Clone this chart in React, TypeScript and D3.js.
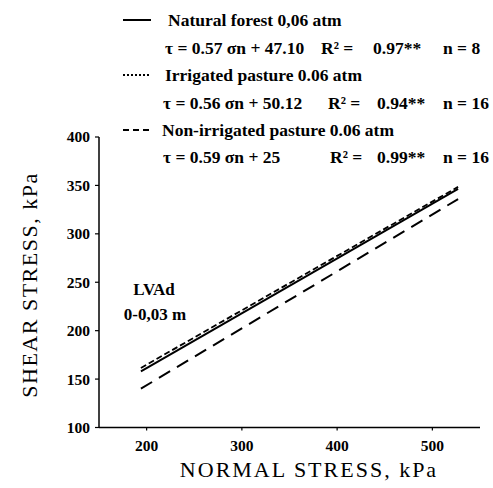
import React from "react";
import * as d3 from "d3";

const seriesNames = ["Natural forest 0,06 atm", "Irrigated pasture 0.06 atm", "Non-irrigated pasture 0.06 atm"];
const equations = ["τ = 0.57 σn + 47.10", "τ = 0.56 σn + 50.12", "τ = 0.59 σn + 25"];
const r2Values = ["0.97**", "0.94**", "0.99**"];
const nValues = ["n = 8", "n = 16", "n = 16"];
const lineX = [194, 527];
const naturalForestY = [158, 346.5];
const irrigatedY = [161.5, 348.5];
const nonIrrigatedY = [140.1, 335.9];
const xTicks = [200, 300, 400, 500];
const yTicks = [100, 150, 200, 250, 300, 350, 400];

const W = 493;
const H = 488;
const FONT = "Liberation Serif, Times New Roman, Times, serif";

export default function App() {
  const x = d3.scaleLinear().domain([150, 550]).range([99, 480]);
  const y = d3.scaleLinear().domain([100, 400]).range([427.5, 137]);
  const line = d3
    .line<[number, number]>()
    .x((d) => x(d[0]))
    .y((d) => y(d[1]));

  const seriesY = [naturalForestY, irrigatedY, nonIrrigatedY];
  const plotDash = ["none", "6,3", "13,8"];
  const plotWidth = [2, 1.8, 2];
  const legendDash = ["none", "2,2", "6,4"];

  const titleX = [168, 165, 162];
  const baseTitle = [26, 81, 136];
  const baseEq = [54, 109, 163];
  const eqX = [165, 163, 163];
  const r2X = [321, 328, 330];
  const r2ValX = [373, 377, 377];
  const nX = [443, 443, 443];

  const T = (props: any) => <text style={{ fontFamily: FONT }} {...props} />;

  return (
    <svg
      width={W}
      height={H}
      style={{ position: "absolute", left: 0, top: 0, background: "#fff", fontFamily: FONT }}
    >
      <rect x={0} y={0} width={W} height={H} fill="#fff" />
      <line x1={x(150)} x2={x(150)} y1={y(400)} y2={y(100)} stroke="#000" strokeWidth={1.5} />
      <line x1={x(150)} x2={x(550)} y1={y(100)} y2={y(100)} stroke="#000" strokeWidth={1.5} />
      {yTicks.map((t) => (
        <g key={"y" + t}>
          <line x1={x(150) - 4} x2={x(150)} y1={y(t)} y2={y(t)} stroke="#000" strokeWidth={1.2} />
          <T x={x(150) - 9} y={y(t)} dy="0.35em" textAnchor="end" fontWeight="bold" fontSize={15.5}>
            {t}
          </T>
        </g>
      ))}
      {xTicks.map((t) => (
        <g key={"x" + t}>
          <line x1={x(t)} x2={x(t)} y1={y(100)} y2={y(100) + 3} stroke="#000" strokeWidth={1.2} />
          <T x={x(t)} y={451} textAnchor="middle" fontWeight="bold" fontSize={15.5}>
            {t}
          </T>
        </g>
      ))}
      <T x={309} y={477} textAnchor="middle" fontSize={22} letterSpacing={2}>
        NORMAL STRESS, kPa
      </T>
      <T transform={`translate(37, 285) rotate(-90)`} textAnchor="middle" fontSize={22} letterSpacing={1.5}>
        SHEAR STRESS, kPa
      </T>

      {seriesY.map((ys, i) => (
        <path
          key={"l" + i}
          d={line(lineX.map((v, j) => [v, ys[j]] as [number, number])) || ""}
          fill="none"
          stroke="#000"
          strokeWidth={plotWidth[i]}
          strokeDasharray={plotDash[i]}
        />
      ))}

      <T x={154} y={295} textAnchor="middle" fontWeight="bold" fontSize={17}>
        LVAd
      </T>
      <T x={155} y={320} textAnchor="middle" fontWeight="bold" fontSize={17}>
        0-0,03 m
      </T>

      {seriesNames.map((name, i) => (
        <g key={"lg" + i}>
          <line
            x1={123}
            x2={151}
            y1={baseTitle[i] - 6}
            y2={baseTitle[i] - 6}
            stroke="#000"
            strokeWidth={2}
            strokeDasharray={legendDash[i]}
          />
          <T x={titleX[i]} y={baseTitle[i]} fontWeight="bold" fontSize={17.5}>
            {name}
          </T>
          <T x={eqX[i]} y={baseEq[i]} fontWeight="bold" fontSize={17.5}>
            {equations[i]}
          </T>
          <T x={r2X[i]} y={baseEq[i]} fontWeight="bold" fontSize={17.5}>
            R² =
          </T>
          <T x={r2ValX[i]} y={baseEq[i]} fontWeight="bold" fontSize={17.5}>
            {r2Values[i]}
          </T>
          <T x={nX[i]} y={baseEq[i]} fontWeight="bold" fontSize={17.5}>
            {nValues[i]}
          </T>
        </g>
      ))}
    </svg>
  );
}
